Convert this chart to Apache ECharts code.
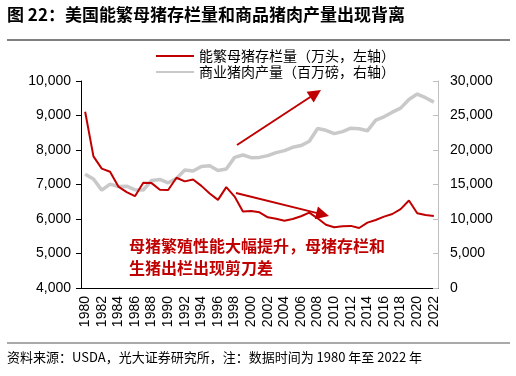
<!DOCTYPE html>
<html>
<head>
<meta charset="utf-8">
<script src="https://cdn.jsdelivr.net/npm/echarts@6/dist/echarts.min.js"></script>
<style>
  html, body { margin: 0; padding: 0; background: #fff; }
  #main { width: 516px; height: 376px; }
</style>
</head>
<body>
<div id="main"></div>
<script>
// 年份 1980-2022
var years = [];
for (var y = 1980; y <= 2022; y++) years.push(String(y));

// 能繁母猪存栏量（左轴）
var sowData = [9110, 7815, 7460, 7370, 6940, 6780, 6660, 7050, 7040, 6845,
    6840, 7195, 7090, 7145, 6960, 6740, 6555, 6925, 6650, 6215,
    6235, 6195, 6050, 6010, 5950, 6000, 6080, 6185, 6020, 5835,
    5760, 5790, 5800, 5740, 5895, 5970, 6070, 6145, 6285, 6535,
    6165, 6115, 6090];

// 商业猪肉产量（右轴）
var porkData = [16500, 15790, 14180, 15060, 14710, 14750, 14230, 14200, 15580, 15730,
    15250, 15870, 17100, 16950, 17620, 17720, 17040, 17240, 18930, 19280,
    18890, 18930, 19180, 19620, 19910, 20390, 20640, 21260, 23110, 22860,
    22380, 22670, 23160, 23070, 22780, 24320, 24810, 25480, 26070, 27330,
    28110, 27580, 26940];

var seriesNames = ['能繁母猪存栏量（万头，左轴）', '商业猪肉产量（百万磅，右轴）'];
var note = '母猪繁殖性能大幅提升，母猪存栏和\n生猪出栏出现剪刀差';

var RED = '#c00000';
var GRAY = '#c9c9c9';
var cjk = '"Noto Sans CJK SC", sans-serif';
var num = '"Liberation Sans", Arial, sans-serif';

// 画箭头：线段 + 三角形头
function arrow(x1, y1, x2, y2) {
    var dx = x2 - x1, dy = y2 - y1;
    var len = Math.sqrt(dx * dx + dy * dy);
    var ux = dx / len, uy = dy / len;
    var hl = 13, hw = 6.5;
    var bx = x2 - ux * hl, by = y2 - uy * hl;
    return [{
        type: 'line',
        shape: { x1: x1, y1: y1, x2: bx + ux * 2, y2: by + uy * 2 },
        style: { stroke: RED, lineWidth: 2 }
    }, {
        type: 'polygon',
        shape: { points: [[x2, y2], [bx - uy * hw, by + ux * hw], [bx + uy * hw, by - ux * hw]] },
        style: { fill: RED }
    }];
}

var chart = echarts.init(document.getElementById('main'));
chart.setOption({
    backgroundColor: '#fff',
    animation: false,
    grid: { left: 81, right: 78, top: 81, bottom: 88 },
    legend: {
        orient: 'vertical',
        left: 150,
        top: 44,
        itemWidth: 38,
        itemHeight: 14,
        itemGap: 2,
        itemStyle: { opacity: 0 },
        textStyle: { fontSize: 14, color: '#000', fontFamily: cjk },
        data: seriesNames
    },
    xAxis: {
        type: 'category',
        data: years,
        boundaryGap: true,
        axisLine: { lineStyle: { color: '#000', width: 1 } },
        axisTick: { inside: true, length: 4, interval: 0, alignWithLabel: true, lineStyle: { color: '#000' } },
        axisLabel: { interval: 1, rotate: 90, fontSize: 14, color: '#000', fontFamily: num, margin: 8 }
    },
    yAxis: [{
        type: 'value',
        min: 4000,
        max: 10000,
        interval: 1000,
        axisLine: { show: true, lineStyle: { color: '#000' } },
        axisTick: { show: true, length: 5, lineStyle: { color: '#000' } },
        splitLine: { show: false },
        axisLabel: { fontSize: 14, color: '#000', fontFamily: num, margin: 10 }
    }, {
        type: 'value',
        min: 0,
        max: 30000,
        interval: 5000,
        axisLine: { show: true, lineStyle: { color: '#bfbfbf' } },
        axisTick: { show: true, inside: true, length: 5, lineStyle: { color: '#bfbfbf' } },
        splitLine: { show: false },
        axisLabel: { fontSize: 14, color: '#000', fontFamily: num, margin: 12 }
    }],
    series: [{
        name: seriesNames[1],
        type: 'line',
        yAxisIndex: 1,
        data: porkData,
        symbol: 'none',
        lineStyle: { color: GRAY, width: 3.5 },
        itemStyle: { color: GRAY },
        z: 2
    }, {
        name: seriesNames[0],
        type: 'line',
        yAxisIndex: 0,
        data: sowData,
        symbol: 'none',
        lineStyle: { color: RED, width: 2 },
        itemStyle: { color: RED },
        z: 3
    }],
    graphic: [{
        type: 'text',
        left: 7,
        top: 6,
        style: { text: '图 22：美国能繁母猪存栏量和商品猪肉产量出现背离', fontSize: 17, fontWeight: 'bold', fill: '#000', fontFamily: cjk }
    }, {
        type: 'line',
        shape: { x1: 7, y1: 40, x2: 510, y2: 40 },
        style: { stroke: '#000', lineWidth: 1 }
    }, {
        type: 'line',
        shape: { x1: 7, y1: 343, x2: 510, y2: 343 },
        style: { stroke: '#555', lineWidth: 1 }
    }, {
        type: 'text',
        left: 7,
        top: 351,
        style: { text: '资料来源：USDA，光大证券研究所，注：数据时间为 1980 年至 2022 年', fontSize: 13, fill: '#000', fontFamily: cjk }
    }, {
        type: 'text',
        left: 129,
        top: 235,
        style: { text: note, fontSize: 16, fontWeight: 'bold', lineHeight: 22, fill: RED, fontFamily: cjk }
    }].concat(arrow(237, 145, 321, 90)).concat(arrow(236, 193, 329, 216))
});
</script>
</body>
</html>
